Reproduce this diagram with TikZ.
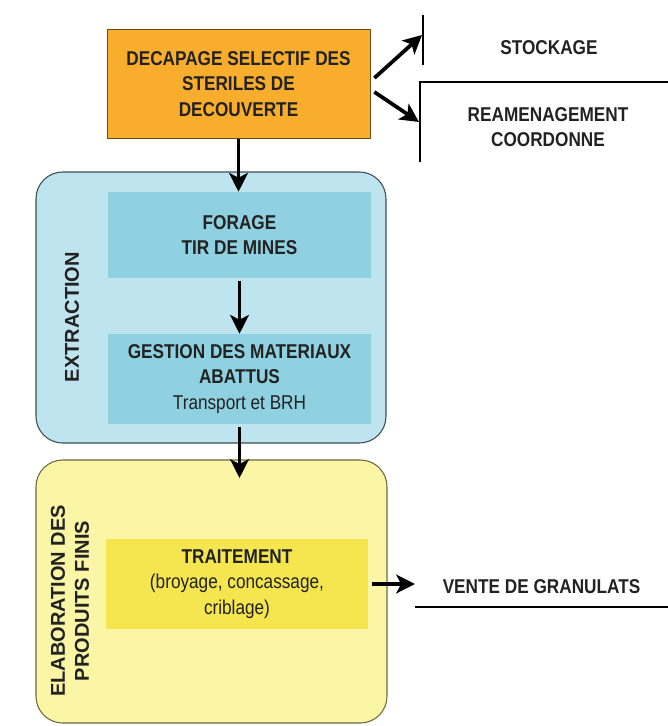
\documentclass[tikz,border=0pt]{standalone}
\usepackage{fontspec}
\setmainfont[FakeStretch=0.86]{Liberation Sans}
\newfontfamily\sidefont{Liberation Sans}
\usetikzlibrary{arrows.meta}

\definecolor{orangebox}{HTML}{F8AE2C}
\definecolor{orangeline}{HTML}{6B4A1E}
\definecolor{blueout}{HTML}{BEE4EF}
\definecolor{bluein}{HTML}{8FD1E1}
\definecolor{blueline}{HTML}{3C4E55}
\definecolor{yellowout}{HTML}{FAF6A6}
\definecolor{yellowin}{HTML}{F5E650}
\definecolor{yellowline}{HTML}{6E6A3A}
\definecolor{textgrey}{HTML}{222222}

\tikzset{
  txt/.style={align=center, inner sep=0pt, text=textgrey,
    font=\fontsize{15pt}{19pt}\selectfont\bfseries},
  panel/.style={draw=#1, line width=0.8pt, rounded corners=20pt, inner sep=0pt},
  flow/.style={-{Stealth[length=14pt,width=14pt,inset=3.5pt]}, line width=2.8pt},
  side/.style={rotate=90, align=center, inner sep=0pt, text=textgrey,
    font=\sidefont\fontsize{15pt}{18pt}\selectfont\bfseries},
}

\begin{document}
\begin{tikzpicture}[x=0.75pt,y=-0.75pt]

\fill[white] (0,0) rectangle (668,726);
\useasboundingbox (0,0) rectangle (668,726);

% decapage
\node[txt, fill=orangebox, draw=orangeline, line width=0.6pt,
  minimum width=197.25pt, minimum height=81.75pt] (decap) at (238.5,84)
  {DECAPAGE SELECTIF DES\\STERILES DE\\DECOUVERTE};

\node[txt] (stock) at (549,48) {STOCKAGE};
\coordinate (stocktop) at (423,15);
\coordinate (stockbot) at (423,65);
\coordinate (stockin) at (422,35);
\draw[line width=0.8pt] (stocktop) -- (stockbot);

\node[txt] (ream) at (548,127) {REAMENAGEMENT\\COORDONNE};
\coordinate (reamtop) at (420,82);
\coordinate (reamend) at (668,82);
\coordinate (reambot) at (420,162);
\coordinate (reamin) at (419,122);
\draw[line width=0.8pt] (reambot) -- (reamtop) -- (reamend);

\draw[flow] ([shift={(4,-6)}]decap.east) -- (stockin);
\draw[flow] ([shift={(4,8)}]decap.east) -- (reamin);

% extraction
\node[panel=blueline, fill=blueout, minimum width=262.5pt,
  minimum height=203.25pt] (extr) at (211,307.5) {};
\node[side] (extrlabel) at (72,317) {EXTRACTION};

\node[txt, fill=bluein, minimum width=197.25pt, minimum height=64.5pt]
  (forage) at (239.5,235) {FORAGE\\TIR DE MINES};
\node[txt, fill=bluein, minimum width=197.25pt, minimum height=67.5pt]
  (gestion) at (239.5,379) {GESTION DES MATERIAUX\\ABATTUS\\{\mdseries Transport et BRH}};

\draw[flow] (decap.south) -- (decap.south |- forage.north);
\draw[flow] ([yshift=-2pt]forage.south) -- (gestion.north);

% elaboration
\node[panel=yellowline, fill=yellowout, minimum width=263.25pt,
  minimum height=197.25pt] (elab) at (211.5,591.5) {};
\node[side] (elablabel) at (70,601) {ELABORATION DES\\PRODUITS FINIS};

\node[txt, fill=yellowin, minimum width=196.5pt, minimum height=67.5pt]
  (trait) at (237,584) {TRAITEMENT\\{\mdseries (broyage, concassage,}\\{\mdseries criblage)}};

\coordinate (elabin) at (239.5,478);
\draw[flow] ([yshift=-2pt]gestion.south) -- (elabin);

% vente
\node[txt] (vente) at (541.5,587) {VENTE DE GRANULATS};
\coordinate (venteleft) at (415,607);
\coordinate (venteright) at (668,607);
\draw[line width=0.8pt] (venteleft) -- (venteright);
\draw[flow] ([xshift=3pt]trait.east) -- (trait.east -| venteleft);

\end{tikzpicture}
\end{document}
